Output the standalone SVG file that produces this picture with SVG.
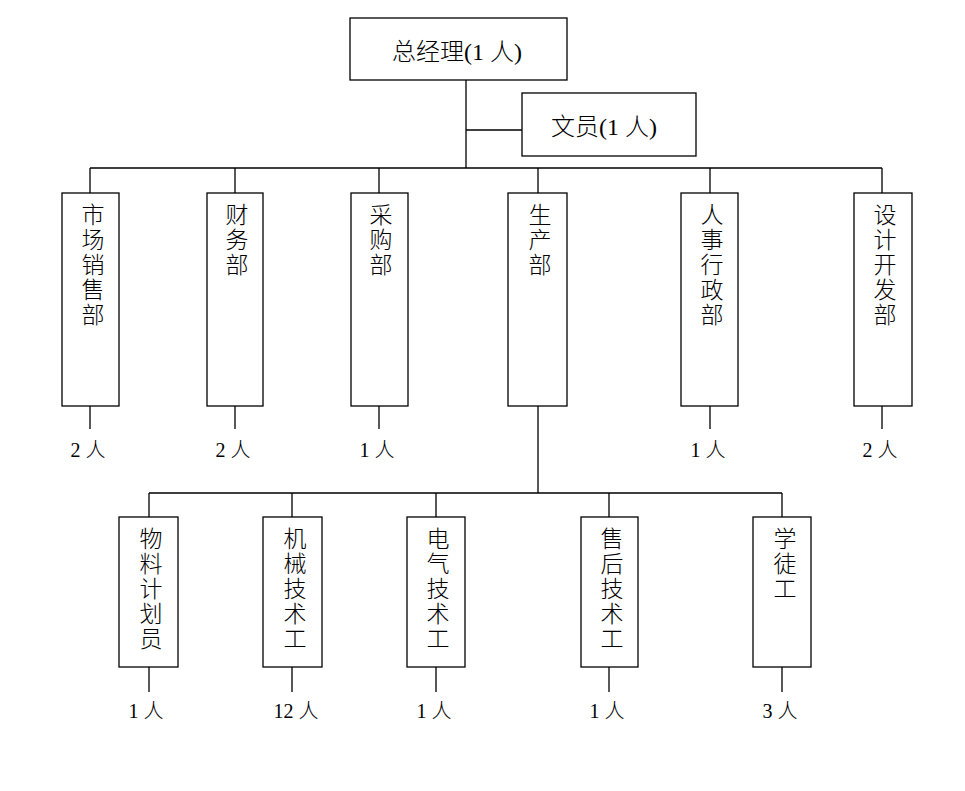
<svg xmlns="http://www.w3.org/2000/svg" width="965" height="791" viewBox="0 0 965 791">
<style>
.box{fill:#fff;stroke:#000;stroke-width:1.3}
.ln{fill:none;stroke:#000;stroke-width:1.3}
.t{font-family:"Liberation Serif","Noto Sans CJK SC",serif;fill:#000;font-weight:300}
.h{font-size:24px}
.v{font-size:23px;text-anchor:middle}
.c{font-size:20px;text-anchor:middle}
</style>
<rect width="965" height="791" fill="#fff"/>
<g id="connectors">
<path class="ln" d="M466 80V168M466 130H522M90 168H882"/>
<path class="ln" d="M90 168V193M235 168V193M379 168V193M538 168V193M710 168V193M882 168V193"/>
<path class="ln" d="M90 406V429M235 406V429M379 406V429M710 406V429M882 406V429"/>
<path class="ln" d="M538 406V493M149 493H782M149 493V517M292 493V517M436 493V517M609 493V517M782 493V517"/>
<path class="ln" d="M149 667V692M292 667V692M436 667V692M609 667V692M782 667V692"/>
</g>
<g id="gm"><rect class="box" x="350" y="18" width="217" height="62"/><text class="t h" x="457" y="60" text-anchor="middle">总经理(1 人)</text></g>
<g id="clerk"><rect class="box" x="522" y="93" width="174" height="63"/><text class="t h" x="604" y="135" text-anchor="middle">文员(1 人)</text></g>
<g id="d1"><rect class="box" x="62" y="193" width="57" height="213"/><text class="t v"><tspan x="93" y="223">市</tspan><tspan x="93" y="248">场</tspan><tspan x="93" y="273">销</tspan><tspan x="93" y="298">售</tspan><tspan x="93" y="323">部</tspan></text><text class="t c" x="88" y="457">2 人</text></g>
<g id="d2"><rect class="box" x="207" y="193" width="56" height="213"/><text class="t v"><tspan x="237" y="223">财</tspan><tspan x="237" y="248">务</tspan><tspan x="237" y="273">部</tspan></text><text class="t c" x="233" y="457">2 人</text></g>
<g id="d3"><rect class="box" x="351" y="193" width="57" height="213"/><text class="t v"><tspan x="381" y="223">采</tspan><tspan x="381" y="248">购</tspan><tspan x="381" y="273">部</tspan></text><text class="t c" x="377" y="457">1 人</text></g>
<g id="d4"><rect class="box" x="508" y="193" width="59" height="213"/><text class="t v"><tspan x="540" y="223">生</tspan><tspan x="540" y="248">产</tspan><tspan x="540" y="273">部</tspan></text></g>
<g id="d5"><rect class="box" x="681" y="193" width="57" height="213"/><text class="t v"><tspan x="712" y="223">人</tspan><tspan x="712" y="248">事</tspan><tspan x="712" y="273">行</tspan><tspan x="712" y="298">政</tspan><tspan x="712" y="323">部</tspan></text><text class="t c" x="708" y="457">1 人</text></g>
<g id="d6"><rect class="box" x="854" y="193" width="58" height="213"/><text class="t v"><tspan x="885" y="223">设</tspan><tspan x="885" y="248">计</tspan><tspan x="885" y="273">开</tspan><tspan x="885" y="298">发</tspan><tspan x="885" y="323">部</tspan></text><text class="t c" x="880" y="457">2 人</text></g>
<g id="s1"><rect class="box" x="119" y="517" width="59" height="150"/><text class="t v"><tspan x="151" y="547">物</tspan><tspan x="151" y="572">料</tspan><tspan x="151" y="597">计</tspan><tspan x="151" y="622">划</tspan><tspan x="151" y="647">员</tspan></text><text class="t c" x="146" y="718">1 人</text></g>
<g id="s2"><rect class="box" x="263" y="517" width="59" height="150"/><text class="t v"><tspan x="295" y="547">机</tspan><tspan x="295" y="572">械</tspan><tspan x="295" y="597">技</tspan><tspan x="295" y="622">术</tspan><tspan x="295" y="647">工</tspan></text><text class="t c" x="296" y="718">12 人</text></g>
<g id="s3"><rect class="box" x="407" y="517" width="58" height="150"/><text class="t v"><tspan x="438" y="547">电</tspan><tspan x="438" y="572">气</tspan><tspan x="438" y="597">技</tspan><tspan x="438" y="622">术</tspan><tspan x="438" y="647">工</tspan></text><text class="t c" x="434" y="718">1 人</text></g>
<g id="s4"><rect class="box" x="581" y="517" width="57" height="150"/><text class="t v"><tspan x="612" y="547">售</tspan><tspan x="612" y="572">后</tspan><tspan x="612" y="597">技</tspan><tspan x="612" y="622">术</tspan><tspan x="612" y="647">工</tspan></text><text class="t c" x="607" y="718">1 人</text></g>
<g id="s5"><rect class="box" x="753" y="517" width="58" height="150"/><text class="t v"><tspan x="785" y="547">学</tspan><tspan x="785" y="572">徒</tspan><tspan x="785" y="597">工</tspan></text><text class="t c" x="780" y="718">3 人</text></g>
</svg>
